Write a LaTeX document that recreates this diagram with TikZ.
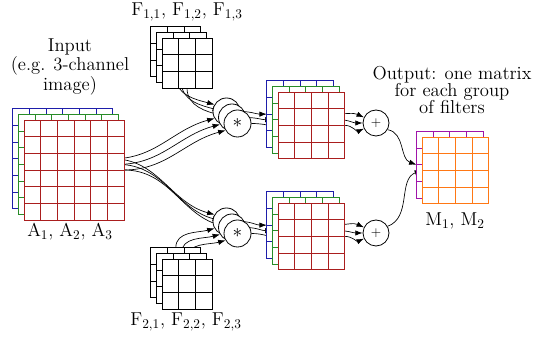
\documentclass[tikz,border=0pt]{standalone}
\usepackage{amsmath}
\usepackage{fontspec}
\usepackage{tikz}
\usetikzlibrary{arrows.meta,shapes,positioning,calc,backgrounds}

\definecolor{chblue}{RGB}{30,30,170}
\definecolor{chgreen}{RGB}{40,140,40}
\definecolor{chred}{RGB}{170,30,30}
\definecolor{outpurple}{RGB}{160,20,170}
\definecolor{outorange}{RGB}{255,120,20}

\tikzset{
  layer/.style={draw, fill=white, inner sep=0pt, outer sep=0pt, anchor=north west, line width=0.7pt},
  op/.style={draw, circle, fill=white, inner sep=0pt, minimum size=20.25pt, line width=0.6pt},
  lbl/.style={font=\fontsize{14}{13}\selectfont, align=center},
  conn/.style={-{Latex[length=5.5pt,width=4pt]}, line width=0.5pt},
}

% one square matrix: name, north west corner, cells, colour
\newcommand{\gridlayer}[4]{%
  \node[layer, draw=#4, minimum size=#3*12.5pt] (#1) at #2 {};
  \draw[#4, line width=0.7pt, shift={(#1.north west)}] (0,0) grid[step=12.5pt] (#3*12.5pt,-#3*12.5pt);
}

\begin{document}
\begin{tikzpicture}[x=0.75pt, y=0.75pt]
  \useasboundingbox (0,0) rectangle (536,342);

  % input channels
  \gridlayer{inB}{(12.8,233.2)}{6}{chblue}
  \gridlayer{inG}{(18.4,227.6)}{6}{chgreen}
  \gridlayer{inR}{(24,222)}{6}{chred}

  % filters
  \gridlayer{fOneA}{(150.8,315.2)}{3}{black}
  \gridlayer{fOneB}{(156.4,309.6)}{3}{black}
  \gridlayer{fOneC}{(162,304)}{3}{black}
  \gridlayer{fTwoA}{(150.8,94.2)}{3}{black}
  \gridlayer{fTwoB}{(156.4,88.6)}{3}{black}
  \gridlayer{fTwoC}{(162,83)}{3}{black}

  % convolutions
  \node[op] (cOneA) at (226.5,230.5) {};
  \node[op] (cOneB) at (232,224.5) {};
  \node[op, font=\Large] (cOneC) at (237.5,218.5) {$*$};
  \node[op] (cTwoA) at (226.5,120.5) {};
  \node[op] (cTwoB) at (232,114.5) {};
  \node[op, font=\Large] (cTwoC) at (237.5,108.5) {$*$};

  % convolution results
  \gridlayer{rOneB}{(266.8,261.2)}{4}{chblue}
  \gridlayer{rOneG}{(272.4,255.6)}{4}{chgreen}
  \gridlayer{rOneR}{(278,250)}{4}{chred}
  \gridlayer{rTwoB}{(266.8,150.2)}{4}{chblue}
  \gridlayer{rTwoG}{(272.4,144.6)}{4}{chgreen}
  \gridlayer{rTwoR}{(278,139)}{4}{chred}

  % sums
  \node[op, minimum size=19.5pt] (sOne) at (376,219) {$+$};
  \node[op, minimum size=19.5pt] (sTwo) at (376,109) {$+$};

  % output
  \gridlayer{outP}{(416.4,210.6)}{4}{outpurple}
  \gridlayer{outO}{(422,205)}{4}{outorange}

  % labels
  \node[lbl] (inlbl) at (70,275) {Input\\(e.g. 3-channel\\image)};
  \node[lbl] (inname) at (70,110) {A$_1$, A$_2$, A$_3$};
  \node[lbl] (fOnename) at (187,330) {F$_{1,1}$, F$_{1,2}$, F$_{1,3}$};
  \node[lbl] (fTwoname) at (186,20) {F$_{2,1}$, F$_{2,2}$, F$_{2,3}$};
  \node[lbl] (outlbl) at (452,252) {Output: one matrix\\for each group\\of filters};
  \node[lbl] (outname) at (455,121) {M$_1$, M$_2$};

  \begin{pgfonlayer}{background}
    % input to convolutions
    \draw[conn] (inB.east) to[out=0,in=195] (cOneA.210);
    \draw[conn] (inG.east) to[out=0,in=195] (cOneB.210);
    \draw[conn] (inR.east) to[out=0,in=195] (cOneC.210);
    \draw[conn] (inB.east) to[out=0,in=165] (cTwoA.150);
    \draw[conn] (inG.east) to[out=0,in=165] (cTwoB.150);
    \draw[conn] (inR.east) to[out=0,in=165] (cTwoC.150);
    % filters to convolutions
    \draw[conn] (fOneA.south) to[out=-90,in=165] (cOneA.150);
    \draw[conn] (fOneB.south) to[out=-90,in=165] (cOneB.150);
    \draw[conn] (fOneC.south) to[out=-90,in=165] (cOneC.150);
    \draw[conn] (fTwoA.north) to[out=90,in=195] (cTwoA.210);
    \draw[conn] (fTwoB.north) to[out=90,in=195] (cTwoB.210);
    \draw[conn] (fTwoC.north) to[out=90,in=195] (cTwoC.210);
    % convolutions to results
    \draw[conn] (cOneA.east) to[out=0,in=180] (rOneB.west);
    \draw[conn] (cOneB.east) to[out=0,in=180] (rOneG.west);
    \draw[conn] (cOneC.east) to[out=0,in=180] (rOneR.west);
    \draw[conn] (cTwoA.east) to[out=0,in=180] (rTwoB.west);
    \draw[conn] (cTwoB.east) to[out=0,in=180] (rTwoG.west);
    \draw[conn] (cTwoC.east) to[out=0,in=180] (rTwoR.west);
    % results to sums
    \draw[conn] (rOneB.east) to[out=0,in=155] (sOne.155);
    \draw[conn] (rOneG.east) to[out=0,in=180] (sOne.180);
    \draw[conn] (rOneR.east) to[out=0,in=205] (sOne.205);
    \draw[conn] (rTwoB.east) to[out=0,in=155] (sTwo.155);
    \draw[conn] (rTwoG.east) to[out=0,in=180] (sTwo.180);
    \draw[conn] (rTwoR.east) to[out=0,in=205] (sTwo.205);
    % sums to output
    \draw[conn] (sOne.-30) to[out=-10,in=160] (outP.west);
    \draw[conn] (sTwo.30) to[out=20,in=200] (outO.west);
  \end{pgfonlayer}
\end{tikzpicture}
\end{document}
